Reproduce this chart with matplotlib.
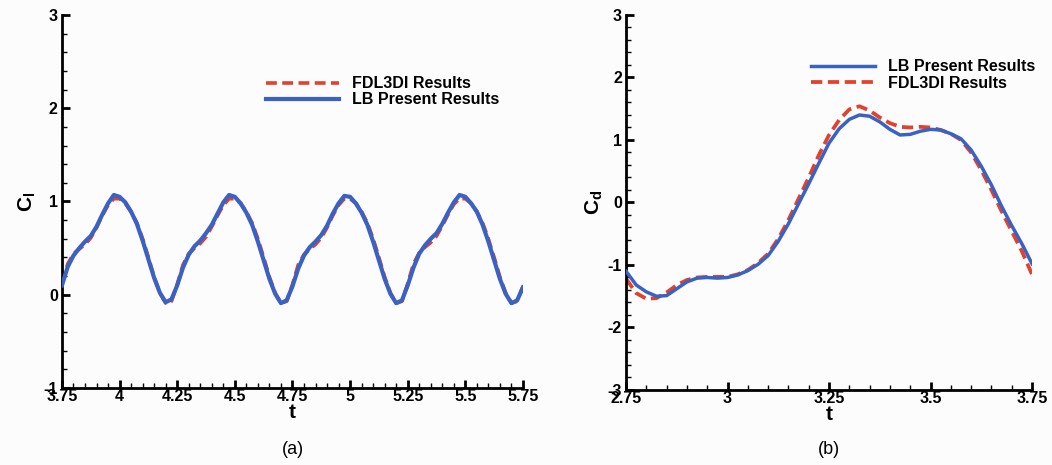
import numpy as np
import matplotlib.pyplot as plt
from matplotlib.ticker import MultipleLocator, FixedLocator

plt.rcParams['font.family'] = 'Liberation Sans'
plt.rcParams['font.weight'] = 'bold'
plt.rcParams['axes.labelweight'] = 'bold'
plt.rcParams['axes.unicode_minus'] = False

# (a) lift coefficient, t = 3.75 .. 5.75 every 0.025
t_lift = np.round(np.arange(3.75, 5.7501, 0.025), 3)
cl_lb = [
    0.10, 0.30, 0.42, 0.50, 0.57, 0.63, 0.73, 0.86, 0.98, 1.07,
    1.05, 0.99, 0.89, 0.76, 0.58, 0.38, 0.18, 0.02, -0.08, -0.05,
    0.10, 0.29, 0.43, 0.52, 0.58, 0.66, 0.75, 0.87, 0.99, 1.07,
    1.05, 0.98, 0.88, 0.75, 0.57, 0.37, 0.17, 0.01, -0.09, -0.06,
    0.09, 0.28, 0.42, 0.51, 0.57, 0.64, 0.74, 0.87, 0.98, 1.06,
    1.05, 0.98, 0.88, 0.75, 0.57, 0.37, 0.17, 0.01, -0.09, -0.06,
    0.10, 0.29, 0.44, 0.53, 0.60, 0.66, 0.76, 0.88, 0.99, 1.07,
    1.05, 0.98, 0.89, 0.75, 0.57, 0.37, 0.17, 0.01, -0.09, -0.06,
    0.08,
]
cl_fdl = [
    0.13, 0.33, 0.44, 0.49, 0.54, 0.61, 0.72, 0.85, 0.96, 1.03,
    1.03, 0.98, 0.89, 0.77, 0.60, 0.40, 0.19, 0.02, -0.09, -0.07,
    0.11, 0.32, 0.44, 0.50, 0.55, 0.62, 0.73, 0.85, 0.96, 1.03,
    1.03, 0.98, 0.89, 0.77, 0.60, 0.40, 0.19, 0.02, -0.09, -0.07,
    0.11, 0.32, 0.43, 0.49, 0.54, 0.61, 0.72, 0.85, 0.96, 1.03,
    1.03, 0.98, 0.89, 0.77, 0.60, 0.40, 0.19, 0.02, -0.09, -0.07,
    0.12, 0.33, 0.45, 0.51, 0.56, 0.63, 0.74, 0.86, 0.97, 1.03,
    1.03, 0.98, 0.89, 0.77, 0.60, 0.40, 0.19, 0.02, -0.09, -0.07,
    0.09,
]

# (b) drag coefficient, t = 2.75 .. 3.75 every 0.025
t_drag = np.round(np.arange(2.75, 3.7501, 0.025), 3)
cd_lb = [
    -1.10, -1.32, -1.43, -1.50, -1.49, -1.38, -1.27, -1.21, -1.20, -1.21,
    -1.20, -1.16, -1.09, -0.99, -0.85, -0.62, -0.34, -0.02, 0.30, 0.63,
    0.95, 1.18, 1.33, 1.40, 1.38, 1.29, 1.17, 1.08, 1.09, 1.14,
    1.17, 1.16, 1.10, 1.02, 0.84, 0.58, 0.28, -0.06, -0.37, -0.66,
    -0.98,
]
cd_fdl = [
    -1.22, -1.45, -1.54, -1.53, -1.44, -1.32, -1.24, -1.20, -1.19, -1.19,
    -1.19, -1.15, -1.08, -0.97, -0.82, -0.58, -0.28, 0.06, 0.40, 0.76,
    1.08, 1.32, 1.49, 1.54, 1.47, 1.36, 1.27, 1.21, 1.20, 1.21,
    1.20, 1.16, 1.10, 1.00, 0.80, 0.52, 0.20, -0.14, -0.46, -0.78,
    -1.15,
]

blue = '#3a62c4'
red = '#e2412b'
bg = '#fcfcfd'
legend_font = {'family': 'Liberation Sans', 'weight': 'bold', 'size': 11.5}


def style_axis(ax, xmin, xmax, xlabels, ymin, ymax):
    ax.set_facecolor(bg)
    ax.set_xlim(xmin, xmax)
    ax.set_ylim(ymin, ymax)
    for s in ['top', 'right']:
        ax.spines[s].set_visible(False)
    for s in ['left', 'bottom']:
        ax.spines[s].set_linewidth(2.0)
    ax.xaxis.set_major_locator(FixedLocator(np.arange(xmin, xmax + 1e-9, 0.25)))
    ax.set_xticklabels(xlabels, fontweight='bold')
    ax.xaxis.set_minor_locator(MultipleLocator(0.05))
    ax.yaxis.set_major_locator(MultipleLocator(1))
    ax.yaxis.set_minor_locator(MultipleLocator(0.2))
    ax.tick_params(which='major', direction='in', length=6, width=2.0,
                   labelsize=11.5, pad=3)
    ax.tick_params(which='minor', direction='in', length=3.5, width=1.0)
    ax.tick_params(axis='x', which='major', pad=1)


fig = plt.figure(figsize=(10.52, 4.65), dpi=100, facecolor=bg)

ax1 = fig.add_axes([0.0589, 0.1656, 0.4382, 0.8022])
ax1.plot(t_lift, cl_fdl, color=red, linewidth=2.6, dashes=(3, 1.5),
         label='FDL3DI Results', zorder=2)
ax1.plot(t_lift, cl_lb, color=blue, linewidth=3.0,
         label='LB Present Results', zorder=3)
style_axis(ax1, 3.75, 5.75,
           ['3.75', '4', '4.25', '4.5', '4.75', '5', '5.25', '5.5', '5.75'], -1, 3)
ax1.set_ylabel(r'C$_{\mathregular{l}}$', fontsize=15, fontweight='bold', labelpad=4)
ax1.set_xlabel('t', fontsize=15, fontweight='bold', labelpad=-1)
ax1.legend(loc='upper left', bbox_to_anchor=(0.442, 0.836), frameon=False,
           handlelength=4.6, handletextpad=0.8, labelspacing=0.08,
           borderpad=0, borderaxespad=0, prop=legend_font)
ax1.text(0.5, -0.166, '(a)', transform=ax1.transAxes, ha='center', va='center',
         fontsize=13, fontweight='normal')

ax2 = fig.add_axes([0.5951, 0.1613, 0.3859, 0.8065])
ax2.plot(t_drag, cd_lb, color=blue, linewidth=2.5,
         label='LB Present Results', zorder=3)
ax2.plot(t_drag, cd_fdl, color=red, linewidth=2.7, dashes=(3, 1.5),
         label='FDL3DI Results', zorder=2)
style_axis(ax2, 2.75, 3.75, ['2.75', '3', '3.25', '3.5', '3.75'], -3, 3)
ax2.set_ylabel(r'C$_{\mathregular{d}}$', fontsize=15, fontweight='bold', labelpad=2)
ax2.set_xlabel('t', fontsize=15, fontweight='bold', labelpad=-1)
ax2.legend(loc='upper left', bbox_to_anchor=(0.456, 0.882), frameon=False,
           handlelength=4.0, handletextpad=0.8, labelspacing=0.08,
           borderpad=0, borderaxespad=0, prop=legend_font)
ax2.text(0.5, -0.16, '(b)', transform=ax2.transAxes, ha='center', va='center',
         fontsize=13, fontweight='normal')

fig.savefig('out.png', dpi=100, facecolor=bg)
